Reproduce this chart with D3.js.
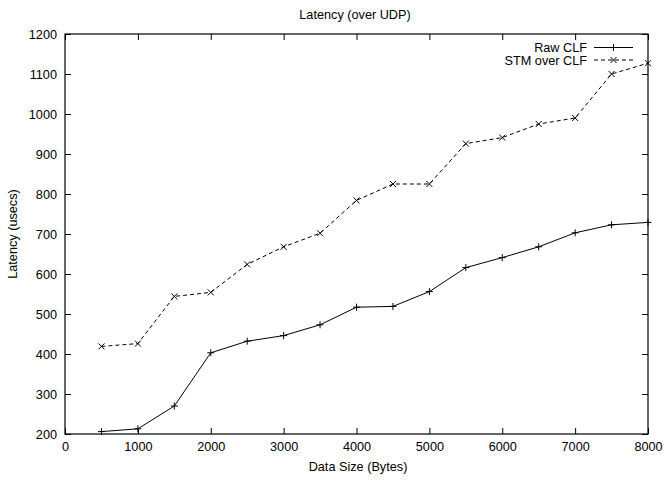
<!DOCTYPE html>
<html><head><meta charset="utf-8">
<script src="https://cdn.jsdelivr.net/npm/d3@7"></script>
<style>
html,body{margin:0;padding:0;background:#fff;}
text{font-family:"Liberation Sans",Arial,Helvetica,sans-serif;fill:#000;}
</style></head><body>
<svg id="chart" width="665" height="481"></svg>
<script>
const sizes = [500,1000,1500,2000,2500,3000,3500,4000,4500,5000,5500,6000,6500,7000,7500,8000];
const rawCLF = [206,213,270,403,432,446,473,517,519,556,616,641,668,703,723,729];
const stmOverCLF = [419,426,544,554,624,668,702,784,825,825,926,941,975,990,1100,1127];
const xTicks = [0,1000,2000,3000,4000,5000,6000,7000,8000];
const yTicks = [200,300,400,500,600,700,800,900,1000,1100,1200];
const seriesNames = ["Raw CLF","STM over CLF"];

const FS = 12.7;
const svg = d3.select("#chart");
const L=65, R=648, T=34, B=434;
const x = d3.scaleLinear().domain([0,8000]).range([L,R]);
const y = d3.scaleLinear().domain([200,1200]).range([B,T]);
const tl = 6;

const gB = svg.append("g").attr("transform",`translate(0,${B})`)
  .call(d3.axisBottom(x).tickValues(xTicks).tickSize(-tl).tickPadding(8).tickFormat(d3.format("d")));
const gT = svg.append("g").attr("transform",`translate(0,${T})`)
  .call(d3.axisTop(x).tickValues(xTicks).tickSize(-tl).tickFormat(""));
const gL = svg.append("g").attr("transform",`translate(${L},0)`)
  .call(d3.axisLeft(y).tickValues(yTicks).tickSize(-tl).tickPadding(8).tickFormat(d3.format("d")));
const gR = svg.append("g").attr("transform",`translate(${R},0)`)
  .call(d3.axisRight(y).tickValues(yTicks).tickSize(-tl).tickFormat(""));
[gB,gT,gL,gR].forEach(g=>{
  g.select(".domain").remove();
  g.selectAll(".tick line").attr("stroke","#000").attr("stroke-width",1);
  g.selectAll("text").attr("font-size",FS).attr("font-family","Liberation Sans, Arial, sans-serif").attr("fill","#000");
});
svg.append("rect").attr("x",L).attr("y",T).attr("width",R-L).attr("height",B-T)
  .attr("fill","none").attr("stroke","#000").attr("stroke-width",1.2);

svg.append("text").attr("x",355).attr("y",19).attr("text-anchor","middle").attr("font-size",FS).text("Latency (over UDP)");
svg.append("text").attr("x",358).attr("y",471).attr("text-anchor","middle").attr("font-size",FS).text("Data Size (Bytes)");
svg.append("text").attr("transform","translate(17,234) rotate(-90)").attr("text-anchor","middle").attr("font-size",FS).text("Latency (usecs)");

const line = d3.line().x((d,i)=>x(sizes[i])).y(d=>y(d));
const plotG = svg.append("g");
function plus(g,cx,cy){
  g.append("path").attr("d",`M${cx-3.5},${cy}H${cx+3.5}M${cx},${cy-3.5}V${cy+3.5}`).attr("stroke","#000").attr("stroke-width",1);
}
function cross(g,cx,cy){
  g.append("path").attr("d",`M${cx-3},${cy-3}L${cx+3},${cy+3}M${cx-3},${cy+3}L${cx+3},${cy-3}`).attr("stroke","#000").attr("stroke-width",1);
}
plotG.append("path").datum(rawCLF).attr("d",line).attr("fill","none").attr("stroke","#000").attr("stroke-width",1);
rawCLF.forEach((v,i)=>plus(plotG,x(sizes[i]),y(v)));
plotG.append("path").datum(stmOverCLF).attr("d",line).attr("fill","none").attr("stroke","#000").attr("stroke-width",1).attr("stroke-dasharray","4,3");
stmOverCLF.forEach((v,i)=>cross(plotG,x(sizes[i]),y(v)));

const lg = svg.append("g");
const rows=[47.5,60];
lg.append("text").attr("x",587).attr("y",rows[0]+4.5).attr("text-anchor","end").attr("font-size",FS).text(seriesNames[0]);
lg.append("line").attr("x1",594).attr("x2",633).attr("y1",rows[0]).attr("y2",rows[0]).attr("stroke","#000");
plus(lg,613.5,rows[0]);
lg.append("text").attr("x",587).attr("y",rows[1]+4.5).attr("text-anchor","end").attr("font-size",FS).text(seriesNames[1]);
lg.append("line").attr("x1",594).attr("x2",633).attr("y1",rows[1]).attr("y2",rows[1]).attr("stroke","#000").attr("stroke-dasharray","4,3");
cross(lg,613.5,rows[1]);
</script></body></html>
